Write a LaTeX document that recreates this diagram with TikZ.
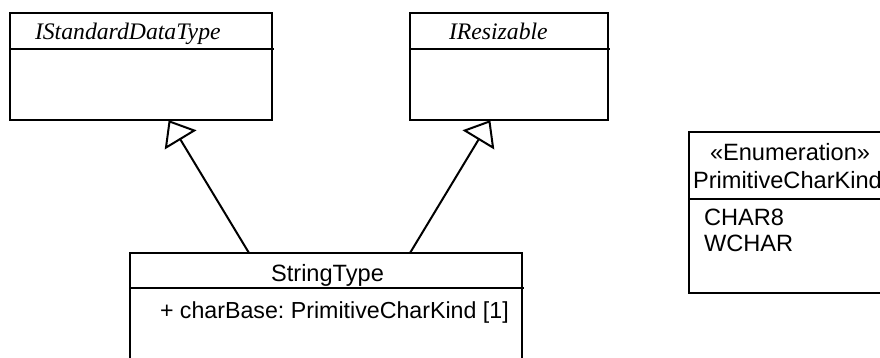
\documentclass[tikz,border=0pt]{standalone}
\usepackage{fontspec}
\setmainfont{Liberation Serif}
\setsansfont{Liberation Sans}
\usetikzlibrary{calc}
\frenchspacing
\begin{document}
\begin{tikzpicture}[x=1pt,y=-1pt,line width=2pt,
  umlbox/.style={draw,line width=2pt,inner sep=0pt,outer sep=0pt,anchor=north west},
  ifname/.style={inner sep=0pt,anchor=base west,font=\fontsize{23.7}{28}\selectfont\itshape},
  txt/.style={inner sep=0pt,anchor=base west,font=\fontsize{23.6}{28}\selectfont\sffamily},
  genline/.style={line width=2pt},
  genhead/.style={line width=2pt,line join=miter,fill=white}]
\useasboundingbox (0,0) rectangle (880,358);
\clip (0,0) rectangle (880,358);
% IStandardDataType
\node[umlbox,minimum width=262pt,minimum height=107pt] (isd) at (10,13) {};
\draw (10,49) -- (274,49);
\node[ifname] (isdname) at (34,40) {IStandardDataType};
% IResizable
\node[umlbox,minimum width=198.5pt,minimum height=107pt] (ires) at (409.5,13) {};
\draw (409.5,49) -- (610,49);
\node[ifname] (iresname) at (448,40) {IResizable};
% StringType
\node[umlbox,minimum width=392pt,minimum height=140pt] (st) at (130,253) {};
\draw (130,288) -- (524,288);
\node[txt,anchor=base] (stname) at (327.5,281) {StringType};
\node[txt,font=\fontsize{23.2}{28}\selectfont\sffamily] (stattr) at (159,318.5) {+ charBase: PrimitiveCharKind [1]};
% Enumeration
\node[umlbox,minimum width=200pt,minimum height=161pt] (en) at (689,132) {};
\draw (689,199) -- (890,199);
\node[txt] (enst) at (709,161) {«Enumeration»};
\node[txt] (enname) at (692,188.5) {PrimitiveCharKind};
\node[txt] (enl1) at (703,225) {CHAR8};
\node[txt] (enl2) at (703,251.5) {WCHAR};
% generalizations
\coordinate (g1s) at (249,253);
\coordinate (g1t) at (169.5,121.5);
\coordinate (g2s) at (410,253);
\coordinate (g2t) at (489.5,121.5);
\coordinate (g1b) at ($(g1t)!20.5pt!(g1s)$);
\coordinate (g2b) at ($(g2t)!20.5pt!(g2s)$);
\draw[genline] (g1s) -- (g1b);
\draw[genline] (g2s) -- (g2b);
\draw[genhead] (g1t) -- ($(g1b)!16.5pt!90:(g1t)$) -- ($(g1b)!16.5pt!-90:(g1t)$) -- cycle;
\draw[genhead] (g2t) -- ($(g2b)!16.5pt!90:(g2t)$) -- ($(g2b)!16.5pt!-90:(g2t)$) -- cycle;
\end{tikzpicture}
\end{document}
